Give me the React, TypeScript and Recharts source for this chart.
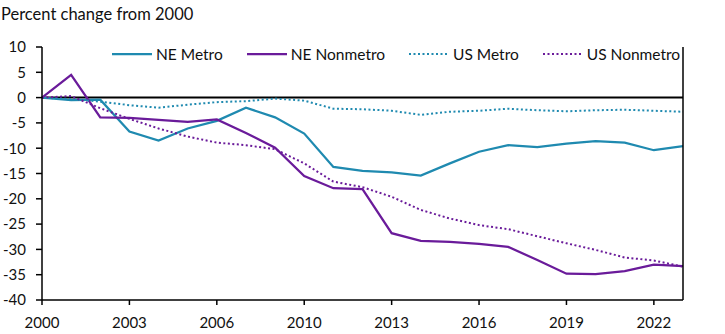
import React from 'react';
import { LineChart, Line, XAxis, YAxis, ReferenceLine, Legend } from 'recharts';

// 類別（2009 年無資料）
const years = [
  '2000', '2001', '2002', '2003', '2004', '2005', '2006', '2007', '2008',
  '2010', '2011', '2012', '2013', '2014', '2015', '2016', '2017', '2018',
  '2019', '2020', '2021', '2022', '2023',
];

const neMetro = [0, -0.5, -0.4, -6.7, -8.5, -6.1, -4.6, -2.0, -3.9, -7.1, -13.7, -14.5, -14.8, -15.4, -13.0, -10.7, -9.4, -9.8, -9.1, -8.6, -8.9, -10.4, -9.6];
const neNonmetro = [0, 4.5, -3.9, -4.0, -4.4, -4.8, -4.3, -7.0, -9.9, -15.5, -17.9, -18.1, -26.8, -28.3, -28.5, -28.9, -29.5, -32.1, -34.8, -34.9, -34.3, -33.0, -33.3];
const usMetro = [0, -0.3, -0.8, -1.5, -2.0, -1.4, -0.9, -0.7, -0.2, -0.6, -2.2, -2.3, -2.6, -3.4, -2.8, -2.6, -2.2, -2.5, -2.7, -2.5, -2.4, -2.6, -2.8];
const usNonmetro = [0, 0.3, -2.1, -4.2, -6.1, -7.7, -8.9, -9.4, -10.2, -13.0, -16.6, -17.7, -19.6, -22.2, -23.9, -25.2, -26.0, -27.4, -28.8, -30.1, -31.6, -32.2, -33.4];

const yTicks = [10, 5, 0, -5, -10, -15, -20, -25, -30, -35, -40];

const TEAL = '#1F8AB0';
const PURPLE = '#6A1B9A';
const FONT = 'Lato, "Noto Sans", sans-serif';
const TEXT = '#111';

const SERIES = [
  { key: 'neMetro', name: 'NE Metro', color: TEAL, dotted: false },
  { key: 'neNonmetro', name: 'NE Nonmetro', color: PURPLE, dotted: false },
  { key: 'usMetro', name: 'US Metro', color: TEAL, dotted: true },
  { key: 'usNonmetro', name: 'US Nonmetro', color: PURPLE, dotted: true },
];

const chartData = years.map((year, i) => ({
  year,
  neMetro: neMetro[i],
  neNonmetro: neNonmetro[i],
  usMetro: usMetro[i],
  usNonmetro: usNonmetro[i],
}));

// 右側刻度：負號向左突出
const RightTick = ({ x, y, payload }: any) => (
  <text
    x={x + (payload.value < 0 ? 2 : 11)}
    y={y}
    dy="0.35em"
    textAnchor="start"
    fill={TEXT}
    fontSize={15}
    fontFamily={FONT}
  >
    {payload.value}
  </text>
);

const renderLegend = () => (
  <div style={{ position: 'absolute', left: 112, top: 45, display: 'flex', fontFamily: FONT, fontSize: 15.5, color: TEXT, whiteSpace: 'nowrap' }}>
    {SERIES.map((s) => (
      <div key={s.key} style={{ display: 'flex', alignItems: 'center', marginRight: 24 }}>
        <svg width={40} height={4} style={{ marginRight: 4 }}>
          <line
            x1={0}
            y1={2}
            x2={40}
            y2={2}
            stroke={s.color}
            strokeWidth={s.dotted ? 2 : 2.25}
            strokeDasharray={s.dotted ? '2 2.5' : undefined}
          />
        </svg>
        <span>{s.name}</span>
      </div>
    ))}
  </div>
);

export default function App() {
  return (
    <div style={{ position: 'absolute', left: 0, top: 0, width: 725, height: 334, background: '#fff' }}>
      <div style={{ position: 'absolute', left: 1, top: 6, fontFamily: FONT, fontSize: 16.5, color: TEXT, lineHeight: 1 }}>
        Percent change from 2000
      </div>
      <LineChart width={725} height={334} data={chartData} margin={{ top: 47, right: 0, bottom: 0, left: 0 }}>
        <XAxis
          dataKey="year"
          interval={2}
          height={34}
          tickSize={5}
          tickMargin={12}
          axisLine={{ stroke: '#000', strokeWidth: 1.5 }}
          tickLine={{ stroke: '#000', strokeWidth: 1.5 }}
          tick={{ fill: TEXT, fontSize: 15, fontFamily: FONT }}
        />
        <YAxis
          yAxisId="left"
          domain={[-40, 10]}
          ticks={yTicks}
          width={42}
          tickSize={6}
          tickMargin={10}
          axisLine={{ stroke: '#000', strokeWidth: 1.5 }}
          tickLine={{ stroke: '#000', strokeWidth: 1.5 }}
          tick={{ fill: TEXT, fontSize: 15, fontFamily: FONT }}
        />
        <YAxis
          yAxisId="right"
          orientation="right"
          domain={[-40, 10]}
          ticks={yTicks}
          width={42}
          tickSize={6}
          tickMargin={0}
          axisLine={{ stroke: '#000', strokeWidth: 1.5 }}
          tickLine={{ stroke: '#000', strokeWidth: 1.5 }}
          tick={<RightTick />}
        />
        <ReferenceLine yAxisId="left" y={0} stroke="#000" strokeWidth={2} />
        <Legend
          content={renderLegend}
          layout="horizontal"
          verticalAlign="middle"
          align="center"
          wrapperStyle={{ top: 0, left: 0, width: 725, height: 0 }}
        />
        {SERIES.map((s) => (
          <Line
            key={s.key}
            yAxisId="left"
            type="linear"
            dataKey={s.key}
            name={s.name}
            stroke={s.color}
            strokeWidth={s.dotted ? 2 : 2.25}
            strokeDasharray={s.dotted ? '2 2.5' : undefined}
            dot={false}
            activeDot={false}
            isAnimationActive={false}
          />
        ))}
      </LineChart>
    </div>
  );
}
